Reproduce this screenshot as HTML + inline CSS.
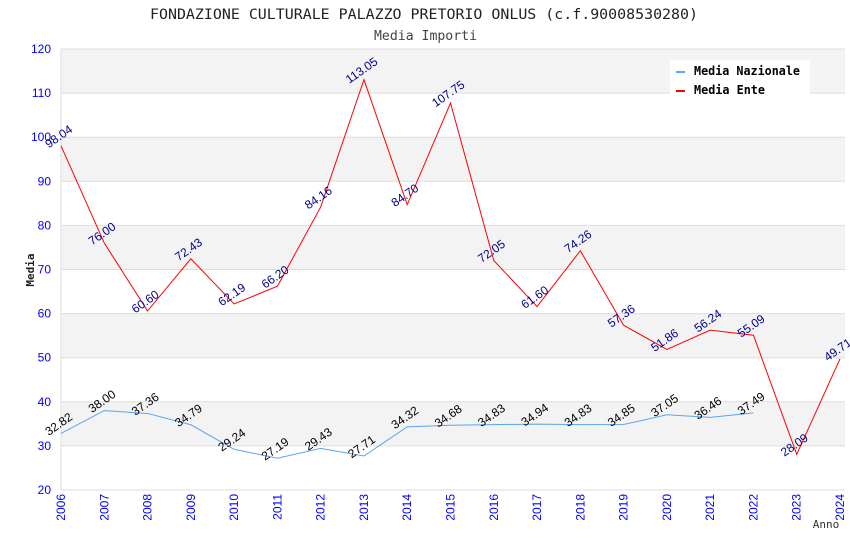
<!DOCTYPE html>
<html><head><meta charset="utf-8"><style>
body{margin:0;background:#fff;}
svg text{font-family:"DejaVu Sans Mono","Liberation Mono",monospace;}
svg text.s{font-family:"Liberation Sans","DejaVu Sans",sans-serif;}
</style></head><body>
<svg id="chart" width="850" height="550" xmlns="http://www.w3.org/2000/svg">
<text x="150" y="19" textLength="548" lengthAdjust="spacingAndGlyphs" font-size="14" fill="#222">FONDAZIONE CULTURALE PALAZZO PRETORIO ONLUS (c.f.90008530280)</text>
<text x="374" y="40" textLength="103" lengthAdjust="spacingAndGlyphs" font-size="13" fill="#444">Media Importi</text>
<g id="plot"></g>
<text transform="translate(34,270) rotate(-90)" text-anchor="middle" font-size="11" font-weight="bold" fill="#222">Media</text>
<text x="826" y="528" text-anchor="middle" font-size="11" fill="#333">Anno</text>
<g>
<rect x="670" y="60" width="140" height="36" fill="#fff"/>
<rect x="676" y="71" width="9" height="2" fill="#5aa5f0"/>
<text x="694" y="75" textLength="106" lengthAdjust="spacingAndGlyphs" font-size="12" font-weight="bold" fill="#000">Media Nazionale</text>
<rect x="676" y="90" width="9" height="2" fill="#f00"/>
<text x="694" y="94" textLength="71" lengthAdjust="spacingAndGlyphs" font-size="12" font-weight="bold" fill="#000">Media Ente</text>
</g>
</svg>
<script>
const years=[2006,2007,2008,2009,2010,2011,2012,2013,2014,2015,2016,2017,2018,2019,2020,2021,2022,2023,2024];
const nazionale=[32.82,38.00,37.36,34.79,29.24,27.19,29.43,27.71,34.32,34.68,34.83,34.94,34.83,34.85,37.05,36.46,37.49,null,null];
const ente=[98.04,76.00,60.60,72.43,62.19,66.20,84.16,113.05,84.70,107.75,72.05,61.60,74.26,57.36,51.86,56.24,55.09,28.09,49.71];
const yTicks=[20,30,40,50,60,70,80,90,100,110,120];
const NS="http://www.w3.org/2000/svg";
const L=61,R=840,T=49,B=490,RE=845;
const xS=i=>L+(R-L)*i/(years.length-1);
const yS=v=>B-(v-20)*(B-T)/100;
const g=document.getElementById('plot');
function mk(t,a){const e=document.createElementNS(NS,t);for(const k in a)e.setAttribute(k,a[k]);g.appendChild(e);return e;}
for(let i=0;i<yTicks.length-1;i++){
  if(i%2===1){const r=mk('rect',{x:L,y:yS(yTicks[i+1]),width:RE-L,height:yS(yTicks[i])-yS(yTicks[i+1]),fill:'#f3f3f3'});
  
  }
}
yTicks.forEach(v=>{
  const l=mk('line',{x1:L,x2:RE,y1:yS(v),y2:yS(v),stroke:'#ddd'});
  
  
  const t=mk('text',{x:L-10,y:yS(v)+4,'text-anchor':'end','font-size':12,fill:'#00f','class':'s'});t.textContent=v;
  
  
});
const ax=mk('line',{x1:L,x2:L,y1:T,y2:B,stroke:'#ddd'});


years.forEach((y,i)=>{
  const t=mk('text',{transform:`translate(${xS(i)+4},${B+4}) rotate(-90)`,'text-anchor':'end','font-size':12,fill:'#00f','class':'s'});t.textContent=y;
  
  
});
function series(vals,color,lblColor,name){
  let d='';vals.forEach((v,i)=>{if(v!==null)d+=(d?'L':'M')+xS(i)+','+yS(v);});
  const p=mk('path',{d:d,fill:'none',stroke:color,'stroke-width':1});
  
  
  vals.forEach((v,i)=>{if(v===null)return;
    const t=mk('text',{transform:`translate(${xS(i)},${yS(v)-6}) rotate(-35)`,'text-anchor':'middle','font-size':12,fill:lblColor,'class':'s'});
    t.textContent=v.toFixed(2);
    
    
  });
}
series(nazionale,'#5aa5f0','#000','nazionale');
series(ente,'#f00','#00008b','ente');
</script>
</body></html>
